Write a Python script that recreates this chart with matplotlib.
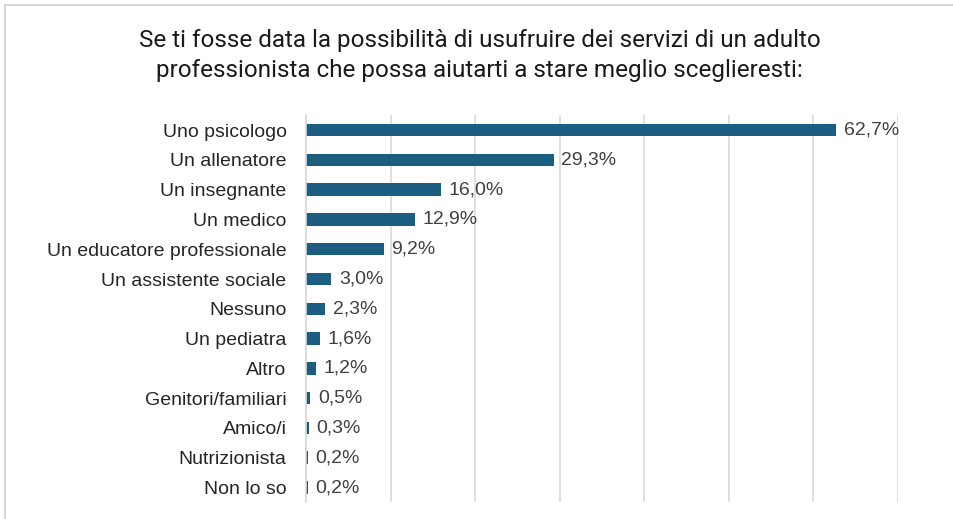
import matplotlib.pyplot as plt
from matplotlib.lines import Line2D

categories = ["Uno psicologo", "Un allenatore", "Un insegnante", "Un medico",
              "Un educatore professionale", "Un assistente sociale", "Nessuno",
              "Un pediatra", "Altro", "Genitori/familiari", "Amico/i",
              "Nutrizionista", "Non lo so"]
values = [62.7, 29.3, 16.0, 12.9, 9.2, 3.0, 2.3, 1.6, 1.2, 0.5, 0.3, 0.2, 0.2]
title = ("Se ti fosse data la possibilità di usufruire dei servizi di un adulto\n"
         "professionista che possa aiutarti a stare meglio sceglieresti:")

bar_color = "#1B5E82"
grid_color = "#D9D9D9"

fig = plt.figure(figsize=(9.54, 5.19), dpi=100)
ax = fig.add_axes([0.3208, 0.032, 0.6205, 0.746])

y = range(len(categories))
ax.barh(y, values, height=0.42, color=bar_color)
for yi, v in zip(y, values):
    ax.text(v + 0.9, yi, f"{v:.1f}%".replace(".", ","), va="center", ha="left",
            fontsize=14, color="#404040", family="Liberation Sans")

ax.set_xlim(0, 70)
ax.set_ylim(len(categories) - 0.5, -0.5)
ax.set_xticks(range(0, 71, 10))
ax.set_xticklabels([])
ax.set_yticks(list(y))
ax.set_yticklabels(categories, fontsize=14, color="#262626", family="Liberation Sans")
ax.tick_params(length=0, pad=14)
ax.grid(axis="x", color=grid_color, linewidth=1.2)
ax.set_axisbelow(True)
for s in ["top", "right", "bottom"]:
    ax.spines[s].set_visible(False)
ax.spines["left"].set_color(grid_color)
ax.spines["left"].set_linewidth(1.2)

fig.text(0.503, 0.945, title, ha="center", va="top", fontsize=17.5,
         color="#1a1a1a", family="Roboto", linespacing=1.42)

# outer border (left and top only visible)
fig.add_artist(Line2D([5.5 / 954, 5.5 / 954], [0, 1 - 4.5 / 519],
                      transform=fig.transFigure, color="#D0D0D0", lw=1.2))
fig.add_artist(Line2D([5.5 / 954, 1], [1 - 4.5 / 519, 1 - 4.5 / 519],
                      transform=fig.transFigure, color="#D0D0D0", lw=1.2))

fig.savefig("out.png", dpi=100)
